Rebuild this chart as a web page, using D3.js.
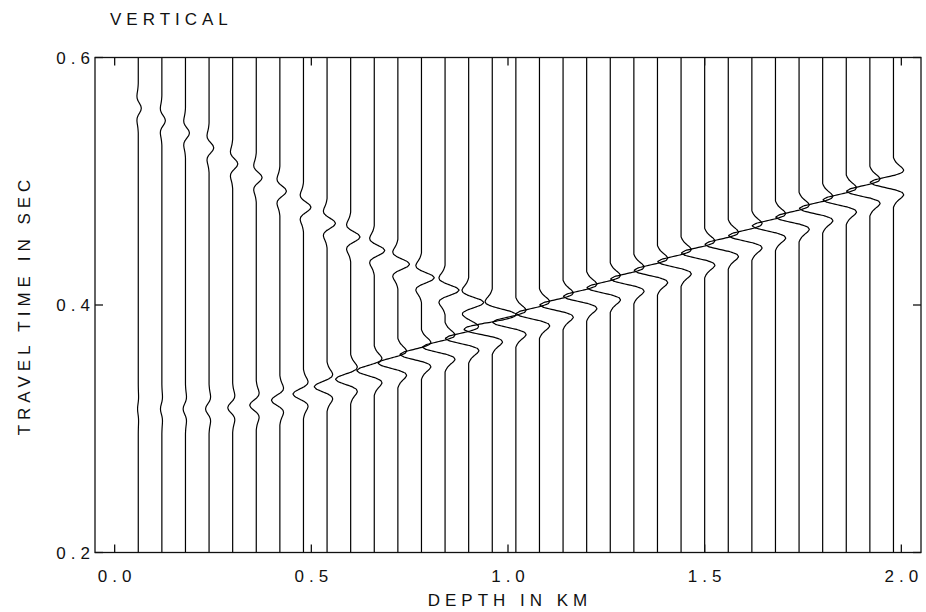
<!DOCTYPE html>
<html>
<head>
<meta charset="utf-8">
<script src="https://cdn.jsdelivr.net/npm/d3@7"></script>
<style>
body { margin: 0; background: #fff; }
text { font-family: "Liberation Sans", Arial, sans-serif; font-size: 17px; fill: #111; letter-spacing: 5px; }
</style>
</head>
<body>
<svg></svg>
<script>
// receiver depths (km)
var depths = [0.06, 0.12, 0.18, 0.24, 0.30, 0.36, 0.42, 0.48, 0.54, 0.60, 0.66,
              0.72, 0.78, 0.84, 0.90, 0.96, 1.02, 1.08, 1.14, 1.20, 1.26, 1.32,
              1.38, 1.44, 1.50, 1.56, 1.62, 1.68, 1.74, 1.80, 1.86, 1.92, 1.98];

// direct (downgoing) arrival: time in sec, amplitude in trace spacings
var downTimes = [0.316, 0.316, 0.316, 0.316, 0.317, 0.319, 0.323, 0.328, 0.334, 0.340, 0.347,
                 0.353, 0.360, 0.366, 0.373, 0.380, 0.386, 0.393, 0.400, 0.407, 0.414, 0.421,
                 0.428, 0.435, 0.442, 0.449, 0.456, 0.464, 0.471, 0.478, 0.485, 0.492, 0.499];
var downAmps = [-0.03, -0.06, -0.10, -0.15, -0.21, -0.28, -0.36, -0.45, -0.55, -0.65, -0.75,
                -0.85, -0.92, -0.97, -1.0, -1.0, -1.0, -1.0, -1.0, -1.0, -1.0, -1.0,
                -1.0, -1.0, -1.0, -1.0, -1.0, -1.0, -1.0, -1.0, -1.0, -1.0, -1.0];

// reflected (upgoing) arrival, only above the reflector
var upTimes = [0.559, 0.549, 0.539, 0.527, 0.514, 0.503, 0.492, 0.479,
               0.466, 0.455, 0.444, 0.433, 0.422, 0.412, 0.402, 0.393];
var upAmps = [0.13, 0.15, 0.17, 0.20, 0.22, 0.25, 0.28, 0.32,
              0.36, 0.40, 0.45, 0.50, 0.55, 0.60, 0.65, 0.70];

// wavelet shape (ms offset -> relative amplitude)
var waveletMs = [-20, -18, -16, -14, -12, -10, -8, -6, -4, -2, 0, 2, 4, 6, 8, 10, 12, 14, 16, 18, 20];
var waveletAmp = [0, -0.05, -0.12, -0.23, -0.36, -0.44, -0.37, -0.08, 0.38, 0.82, 1.0,
                  0.82, 0.38, -0.08, -0.37, -0.44, -0.36, -0.23, -0.12, -0.05, 0];

var xTicks = [0, 0.5, 1.0, 1.5, 2.0];
var yTicks = [0.2, 0.4, 0.6];
var traceSpacing = 0.06;

var svgWidth = 926, svgHeight = 612;
var plotLeft = 95, plotRight = 921, plotTop = 57.5, plotBottom = 552.5;

var svg = d3.select("svg")
    .attr("width", svgWidth)
    .attr("height", svgHeight);

var xScale = d3.scaleLinear().domain([-0.05, 2.05]).range([plotLeft, plotRight]);
var yScale = d3.scaleLinear().domain([0.2, 0.6]).range([plotBottom, plotTop]);
var wavelet = d3.scaleLinear().domain(waveletMs).range(waveletAmp).clamp(true);

// sample times (sec), 0.5 ms step
var times = d3.range(0, 801).map(function(i) { return 0.2 + i * 0.0005; });

var line = d3.line()
    .x(function(p) { return xScale(p[0]); })
    .y(function(p) { return yScale(p[1]); })
    .curve(d3.curveBasis);

//Traces
svg.append("g")
    .selectAll("path")
    .data(depths)
    .enter()
    .append("path")
    .attr("fill", "none")
    .attr("stroke", "#000")
    .attr("stroke-width", 1.2)
    .attr("d", function(d, i) {
        var pts = times.map(function(t) {
            var a = downAmps[i] * wavelet((t - downTimes[i]) * 1000);
            if (i < upTimes.length) a += upAmps[i] * wavelet((t - upTimes[i]) * 1000);
            return [d + a * traceSpacing, t];
        });
        return line(pts);
    });

//Frame and ticks
svg.append("rect")
    .attr("x", plotLeft).attr("y", plotTop)
    .attr("width", plotRight - plotLeft).attr("height", plotBottom - plotTop)
    .attr("fill", "none")
    .attr("stroke", "#111")
    .attr("stroke-width", 1.3);

var tickLen = 8;
var ticks = svg.append("g").attr("stroke", "#111").attr("stroke-width", 1.3);
xTicks.forEach(function(v) {
    ticks.append("line").attr("x1", xScale(v)).attr("x2", xScale(v))
        .attr("y1", plotBottom).attr("y2", plotBottom - tickLen);
    ticks.append("line").attr("x1", xScale(v)).attr("x2", xScale(v))
        .attr("y1", plotTop).attr("y2", plotTop + tickLen);
});
yTicks.forEach(function(v) {
    ticks.append("line").attr("x1", plotLeft).attr("x2", plotLeft + tickLen)
        .attr("y1", yScale(v)).attr("y2", yScale(v));
    ticks.append("line").attr("x1", plotRight).attr("x2", plotRight - tickLen)
        .attr("y1", yScale(v)).attr("y2", yScale(v));
});

//Labels
var fmt = d3.format(".1f");
svg.append("g").selectAll("text")
    .data(xTicks).enter().append("text")
    .attr("x", function(v) { return xScale(v) + 2.5; })
    .attr("y", 582)
    .attr("text-anchor", "middle")
    .text(fmt);

svg.append("g").selectAll("text")
    .data(yTicks).enter().append("text")
    .attr("x", 95)
    .attr("y", function(v) { return yScale(v) + 6; })
    .attr("text-anchor", "end")
    .text(fmt);

svg.append("text")
    .attr("x", 510).attr("y", 606)
    .attr("text-anchor", "middle")
    .text("DEPTH IN KM");

svg.append("text")
    .attr("transform", "translate(30," + 305 + ") rotate(-90)")
    .attr("text-anchor", "middle")
    .text("TRAVEL TIME IN SEC");

svg.append("text")
    .attr("x", 110).attr("y", 25)
    .text("VERTICAL");
</script>
</body>
</html>
